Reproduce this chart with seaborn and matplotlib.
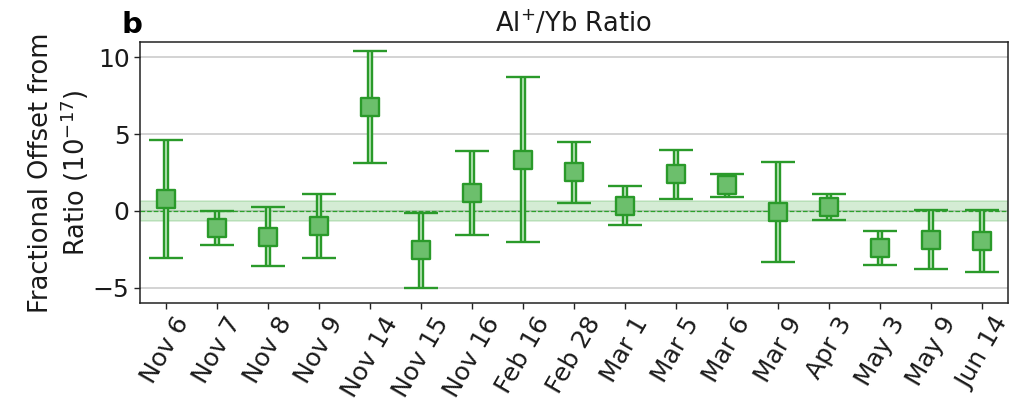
import matplotlib
matplotlib.use("Agg")
import matplotlib.pyplot as plt
import matplotlib.patheffects as pe
import numpy as np
import pandas as pd
import seaborn as sns

# Measurement dates and fractional offsets (units of 1e-17)
dates = ["Nov 6", "Nov 7", "Nov 8", "Nov 9", "Nov 14", "Nov 15", "Nov 16",
         "Feb 16", "Feb 28", "Mar 1", "Mar 5", "Mar 6", "Mar 9", "Apr 3",
         "May 3", "May 9", "Jun 14"]
offsets = [0.78, -1.1, -1.7, -0.96, 6.78, -2.57, 1.17,
           3.34, 2.5, 0.34, 2.37, 1.67, -0.05, 0.25,
           -2.4, -1.87, -1.95]
uncertainties = [3.82, 1.1, 1.92, 2.08, 3.64, 2.46, 2.73,
                 5.4, 2.0, 1.25, 1.6, 0.76, 3.25, 0.84,
                 1.1, 1.92, 2.0]
# Uncertainty of the combined ratio (shaded band around zero)
band_halfwidth = 0.65

df = pd.DataFrame({"date": dates, "offset": offsets, "err": uncertainties})

sns.set_style("whitegrid")
plt.rcParams["font.family"] = ["DejaVu Sans"]

dark_green = "#2a9a2a"
face_green = "#6cbf6c"
text_color = "#1a1a1a"

fig = plt.figure(figsize=(10.25, 4.05), dpi=100)
ax = fig.add_axes([0.1366, 0.2519, 0.8468, 0.6444])

# Shaded uncertainty band of the mean ratio
ax.axhspan(-band_halfwidth, band_halfwidth, facecolor="#2ca02c", alpha=0.2,
           edgecolor="#2ca02c", linewidth=1.2, zorder=1)
ax.axhline(0, color="#2ca02c", linestyle="--", linewidth=0.9, zorder=1.5)

# Error bars
eb = ax.errorbar(df["date"], df["offset"], yerr=df["err"], fmt="none",
                 ecolor=dark_green, elinewidth=1.4, capsize=12, capthick=1.7,
                 zorder=3)
for col in eb[2]:
    col.set_path_effects([pe.Stroke(linewidth=4.6, foreground=dark_green),
                          pe.Normal()])
    col.set_color("#a9dca9")

# Square markers
sns.scatterplot(data=df, x="date", y="offset", marker="s", s=185,
                color=face_green, edgecolor=dark_green, linewidth=1.7,
                zorder=4, ax=ax, legend=False)

ax.set_xlim(-0.5, len(dates) - 0.5)
ax.set_ylim(-6, 11)
ax.set_yticks([-5, 0, 5, 10])
ax.grid(axis="x", visible=False)
ax.grid(axis="y", color="#cccccc", linewidth=1.2)
for s in ax.spines.values():
    s.set_color("#222222")
    s.set_linewidth(1.1)

ax.tick_params(axis="both", which="both", bottom=True, left=True,
               direction="out", length=4, width=1, color="#222222",
               labelsize=18, labelcolor=text_color)
ax.tick_params(axis="x", pad=3)
plt.setp(ax.get_xticklabels(), rotation=60)

ax.set_xlabel("")
ax.set_ylabel("Fractional Offset from\nRatio ($10^{-17}$)", fontsize=18.5,
              color=text_color, labelpad=1)
ax.set_title("Al$^{+}$/Yb Ratio", fontsize=18.5, color=text_color, pad=7)
fig.text(0.119, 1 - 33 / 405, "b", fontsize=21, fontweight="bold",
         ha="left", va="baseline", color="black")

fig.savefig("out.png", dpi=100)
